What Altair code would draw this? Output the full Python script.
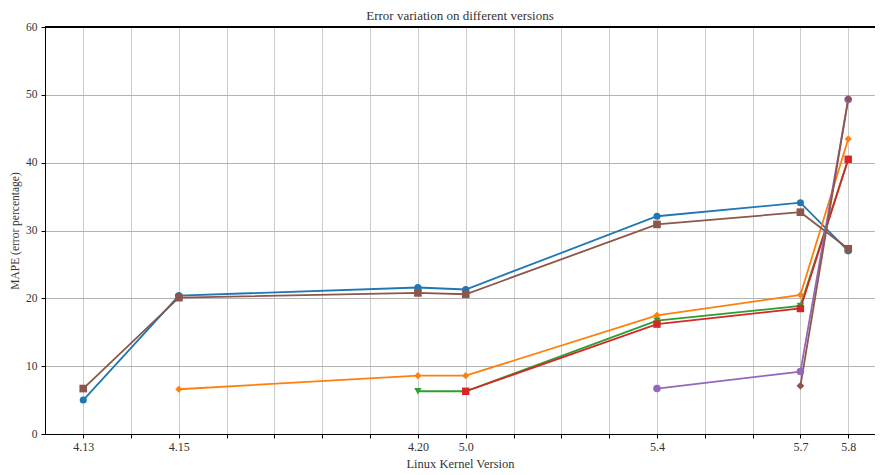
import altair as alt
import pandas as pd

versions = ["4.13", "4.14", "4.15", "4.16", "4.17", "4.18", "4.19", "4.20",
            "5.0", "5.1", "5.2", "5.3", "5.4", "5.5", "5.6", "5.7", "5.8"]
labeled = ["4.13", "4.15", "4.20", "5.0", "5.4", "5.7", "5.8"]

series_names = ["s1", "s2", "s3", "s4", "s5", "s6", "s7"]
s1_x = ["4.13", "4.15", "4.20", "5.0", "5.4", "5.7", "5.8"]
s1_y = [5.0, 20.4, 21.6, 21.3, 32.1, 34.1, 27.0]
s2_x = ["4.15", "4.20", "5.0", "5.4", "5.7", "5.8"]
s2_y = [6.6, 8.6, 8.6, 17.5, 20.5, 43.5]
s3_x = ["4.20", "5.0", "5.4", "5.7", "5.8"]
s3_y = [6.3, 6.3, 16.7, 18.9, 40.5]
s4_x = ["5.0", "5.4", "5.7", "5.8"]
s4_y = [6.3, 16.2, 18.5, 40.5]
s5_x = ["5.4", "5.7", "5.8"]
s5_y = [6.7, 9.2, 49.3]
s6_x = ["4.13", "4.15", "4.20", "5.0", "5.4", "5.7", "5.8"]
s6_y = [6.7, 20.1, 20.8, 20.6, 30.9, 32.7, 27.3]
s7_x = ["5.7", "5.8"]
s7_y = [7.1, 49.4]

colors = ["#1f77b4", "#ff7f0e", "#2ca02c", "#d62728", "#9467bd", "#8c564b", "#8c564b"]
wide_diamond = "M0,-1L1,0L0,1L-1,0Z"
shapes = ["circle", "diamond", "triangle-down", "square", "circle", "square", wide_diamond]
sizes = [50, 60, 50, 32, 38, 50, 70]

rows = []
for name, xs, ys in zip(series_names,
                        [s1_x, s2_x, s3_x, s4_x, s5_x, s6_x, s7_x],
                        [s1_y, s2_y, s3_y, s4_y, s5_y, s6_y, s7_y]):
    for i, (xv, yv) in enumerate(zip(xs, ys)):
        rows.append({"series": name, "version": xv,
                     "idx": versions.index(xv), "mape": yv, "order": i})
df = pd.DataFrame(rows)

font = "Liberation Serif"
label_map = "{" + ",".join(f"{versions.index(v)}:'{v}'" for v in labeled) + "}"

x_enc = alt.X("idx:Q",
              scale=alt.Scale(domain=[-0.8, 16.56], nice=False, zero=False),
              axis=alt.Axis(values=list(range(len(versions))),
                            labelExpr=f"({label_map})[datum.value] || ''",
                            title="Linux Kernel Version",
                            grid=True, gridColor="#cccccc", gridWidth=1,
                            domainColor="black", tickColor="black", tickSize=4,
                            labelFont=font, labelFontSize=12, labelColor="#333",
                            labelPadding=3, labelFlush=False,
                            titleFont=font, titleFontSize=12.5, titleFontWeight="normal",
                            titleColor="#333", titlePadding=5))
y_enc = alt.Y("mape:Q",
              scale=alt.Scale(domain=[0, 60], nice=False),
              axis=alt.Axis(values=[0, 10, 20, 30, 40, 50, 60],
                            title="MAPE (error percentage)",
                            grid=True, gridColor="#b4b4b4", gridWidth=1,
                            domainColor="black", tickColor="black", tickSize=4,
                            labelFont=font, labelFontSize=11.5, labelColor="#333",
                            labelPadding=4,
                            titleFont=font, titleFontSize=11.5, titleFontWeight="normal",
                            titleColor="#333", titlePadding=5))

color_enc = alt.Color("series:N", scale=alt.Scale(domain=series_names, range=colors), legend=None)

base = alt.Chart(df)
lines = base.mark_line(strokeWidth=1.8).encode(
    x=x_enc, y=y_enc, color=color_enc, detail="series:N", order="order:Q")
points = base.mark_point(filled=True, opacity=1).encode(
    x="idx:Q", y="mape:Q", color=color_enc,
    shape=alt.Shape("series:N", scale=alt.Scale(domain=series_names, range=shapes), legend=None),
    size=alt.Size("series:N", scale=alt.Scale(domain=series_names, range=sizes), legend=None))
top = alt.Chart(df).mark_rule(color="black", strokeWidth=1).encode(y=alt.datum(60))

chart = alt.layer(lines, points, top).properties(
    width=830, height=407,
    padding={"left": 37, "top": 19, "right": 0, "bottom": 37},
    autosize=alt.AutoSizeParams(type="none"),
    title=alt.TitleParams("Error variation on different versions", font=font,
                          fontSize=13, fontWeight="normal", color="#333", offset=-2),
).configure_view(stroke=None)

chart.save("out.html", embed_options={"renderer": "svg", "actions": False})
